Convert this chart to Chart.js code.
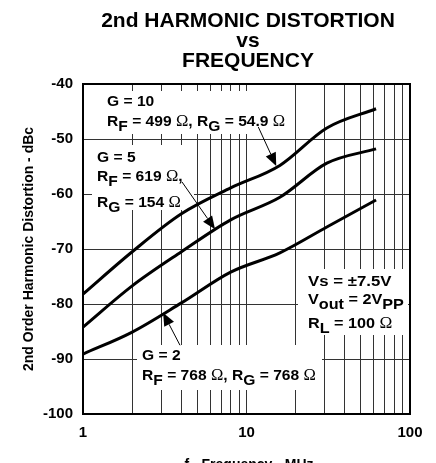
<!DOCTYPE html>
<html>
<head>
<meta charset="utf-8">
<script src="https://cdn.jsdelivr.net/npm/chart.js@4"></script>
<style>
html, body { margin: 0; padding: 0; background: #fff; }
canvas { display: block; }
</style>
</head>
<body>
<canvas id="grafiek" width="436" height="463"></canvas>
<script>
// meetpunten (MHz / dBc)
const frequenties = [1, 2, 4, 8, 16, 31, 62];
const versterking10 = [-78.2, -70.5, -63.6, -58.9, -54.8, -48.0, -44.5];
const versterking5 = [-84.2, -76.7, -70.5, -64.7, -60.6, -54.4, -51.8];
const versterking2 = [-89.1, -85.1, -79.8, -74.2, -70.7, -66.0, -61.1];

const xRaster = [1, 2, 3, 4, 5, 6, 7, 8, 9, 10, 20, 30, 40, 50, 60, 70, 80, 90, 100];
const xLabels = [1, 10, 100];

const letter = "'Liberation Sans', Arial, sans-serif";
const zwart = "#000";

function reeks(waarden) {
    return {
        data: frequenties.map((f, i) => ({ x: f, y: waarden[i] })),
        borderColor: zwart,
        borderWidth: 3,
        pointRadius: 0,
        fill: false,
        cubicInterpolationMode: "monotone"
    };
}

// tekst met subscripts en omega, iets breder getrokken
function rijkeTekst(ctx, x, y, delen, rek) {
    rek = rek || 1.04;
    ctx.save();
    ctx.translate(x, y);
    ctx.scale(rek, 1);
    let cx = 0;
    delen.forEach(([t, soort]) => {
        let dy = 0;
        if (soort === "o") {
            ctx.font = "16px 'Liberation Serif', serif";
        } else {
            ctx.font = "bold 15px " + letter;
        }
        if (soort === "s") dy = 5;
        ctx.fillText(t, cx, dy);
        cx += ctx.measureText(t).width;
    });
    ctx.restore();
}

function pijl(ctx, x1, y1, x2, y2) {
    const hoek = Math.atan2(y2 - y1, x2 - x1);
    const len = 13, br = 5.5;
    const bx = x2 - len * Math.cos(hoek), by = y2 - len * Math.sin(hoek);
    ctx.lineWidth = 1;
    ctx.beginPath();
    ctx.moveTo(x1, y1);
    ctx.lineTo(bx, by);
    ctx.stroke();
    ctx.beginPath();
    ctx.moveTo(x2, y2);
    ctx.lineTo(bx + br * Math.sin(hoek), by - br * Math.cos(hoek));
    ctx.lineTo(bx - br * Math.sin(hoek), by + br * Math.cos(hoek));
    ctx.closePath();
    ctx.fill();
}

const witteVlakken = {
    id: "witteVlakken",
    beforeDatasetsDraw(chart) {
        const c = chart.ctx;
        c.save();
        c.fillStyle = "#fff";
        c.fillRect(85, 91, 205, 43);
        c.fillRect(92, 145, 102, 65);
        c.fillRect(137, 345, 185, 45);
        c.fillRect(298, 269, 110, 66);
        c.restore();
    }
};

const teksten = {
    id: "teksten",
    afterDatasetsDraw(chart) {
        const c = chart.ctx;
        const sx = chart.scales.x, sy = chart.scales.y;
        const p = (f, d) => [sx.getPixelForValue(f), sy.getPixelForValue(d)];
        c.save();
        c.fillStyle = zwart;
        c.strokeStyle = zwart;
        c.textAlign = "left";
        c.textBaseline = "alphabetic";

        rijkeTekst(c, 107, 106, [["G = 10"]]);
        rijkeTekst(c, 107, 126, [["R"], ["F", "s"], [" = 499 "], ["\u03A9", "o"], [", R"], ["G", "s"], [" = 54.9 "], ["\u03A9", "o"]]);

        rijkeTekst(c, 97, 162, [["G = 5"]]);
        rijkeTekst(c, 97, 181, [["R"], ["F", "s"], [" = 619 "], ["\u03A9", "o"], [","]]);
        rijkeTekst(c, 97, 207, [["R"], ["G", "s"], [" = 154 "], ["\u03A9", "o"]]);

        rijkeTekst(c, 142, 360, [["G = 2"]]);
        rijkeTekst(c, 142, 380, [["R"], ["F", "s"], [" = 768 "], ["\u03A9", "o"], [", R"], ["G", "s"], [" = 768 "], ["\u03A9", "o"]]);

        rijkeTekst(c, 308, 286, [["Vs = \u00B17.5V"]], 1.12);
        rijkeTekst(c, 308, 304, [["V"], ["out", "s"], [" = 2V"], ["PP", "s"]], 1.08);
        rijkeTekst(c, 308, 328, [["R"], ["L", "s"], [" = 100 "], ["\u03A9", "o"]], 1.08);

        let a = p(11.8, -47.8), b = p(15.2, -54.9);
        pijl(c, a[0], a[1], b[0], b[1]);
        a = p(4.03, -57.8); b = p(6.42, -66.4);
        pijl(c, a[0], a[1], b[0], b[1]);
        a = p(3.92, -87.5); b = p(3.09, -81.6);
        pijl(c, a[0], a[1], b[0], b[1]);
        c.restore();
    },
    afterDraw(chart) {
        const c = chart.ctx;
        const ca = chart.chartArea;
        c.save();
        c.strokeStyle = zwart;
        c.lineWidth = 2;
        c.strokeRect(ca.left, ca.top, ca.right - ca.left, ca.bottom - ca.top);

        c.fillStyle = zwart;
        c.textAlign = "center";
        c.textBaseline = "alphabetic";
        c.font = "bold 21px " + letter;
        c.fillText("2nd HARMONIC DISTORTION", 248, 27);
        c.fillText("vs", 248, 47);
        c.fillText("FREQUENCY", 248, 67);

        c.font = "bold 14px " + letter;
        c.fillText("f - Frequency - MHz", 249, 469);

        c.translate(33, 249);
        c.rotate(-Math.PI / 2);
        c.fillText("2nd Order Harmonic Distortion - dBc", 0, 0);
        c.restore();
    }
};

const tickFont = { family: letter, weight: "bold", size: 15 };

new Chart(document.getElementById("grafiek"), {
    type: "line",
    data: {
        datasets: [reeks(versterking10), reeks(versterking5), reeks(versterking2)]
    },
    options: {
        responsive: false,
        animation: false,
        devicePixelRatio: 1,
        layout: { padding: { left: 0, right: 26, top: 84, bottom: 0 } },
        plugins: { legend: { display: false }, tooltip: { enabled: false } },
        scales: {
            x: {
                type: "logarithmic",
                min: 1,
                max: 100,
                afterBuildTicks: as => { as.ticks = xRaster.map(v => ({ value: v })); },
                afterFit: s => { s.height = 49; },
                grid: { color: "#333", lineWidth: 1, drawTicks: false },
                border: { display: false },
                ticks: {
                    autoSkip: false,
                    maxRotation: 0,
                    padding: 10,
                    color: zwart,
                    font: tickFont,
                    callback: v => xLabels.includes(v) ? String(v) : ""
                }
            },
            y: {
                min: -100,
                max: -40,
                afterFit: s => { s.width = 83; },
                grid: { color: "#333", lineWidth: 1, drawTicks: false },
                border: { display: false },
                ticks: { stepSize: 10, padding: 10, color: zwart, font: tickFont }
            }
        }
    },
    plugins: [witteVlakken, teksten]
});
</script>
</body>
</html>
